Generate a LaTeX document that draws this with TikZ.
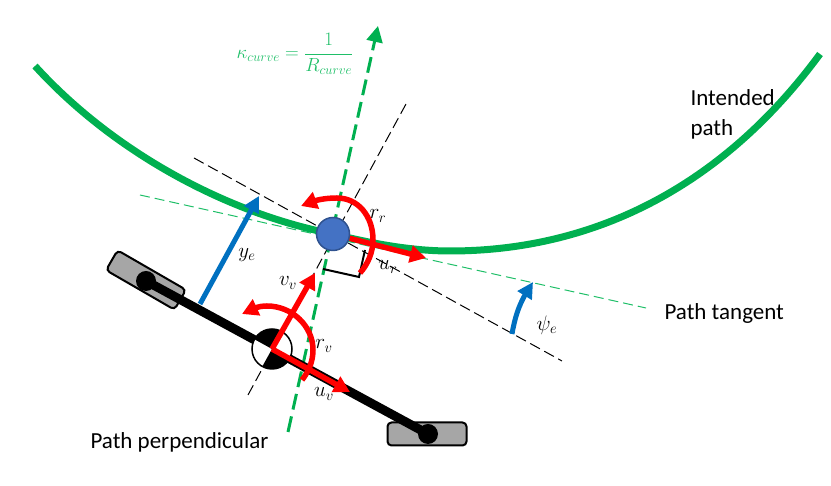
\RequirePackage{fix-cm}
\documentclass[tikz,border=0pt]{standalone}
\usepackage{amsmath}
\usepackage{fontspec}
\setmainfont{Carlito}
\usepackage{tikz}
\usetikzlibrary{positioning,arrows.meta,bending}
\definecolor{pathgreen}{HTML}{00B050}
\definecolor{labelgreen}{HTML}{1FBF68}
\definecolor{errblue}{HTML}{0070C0}
\definecolor{robotblue}{HTML}{4472C4}
\definecolor{robotedge}{HTML}{2F528F}
\definecolor{wheelgray}{HTML}{A6A6A6}
\tikzset{
  x=1pt, y=1pt,
  intended/.style={draw=pathgreen, line width=7pt},
  greenaxis/.style={draw=pathgreen, line width=3pt, dash pattern=on 16pt off 7pt,
                    -{Triangle[length=16pt, width=16pt]}},
  greenthin/.style={draw=labelgreen, line width=1pt, dash pattern=on 10pt off 5pt},
  blackthin/.style={draw=black, line width=1pt, dash pattern=on 11pt off 5pt},
  redvec/.style={draw=red, line width=5.5pt, -{Triangle[length=16pt, width=17pt, color=red]}},
  bluevec/.style={draw=errblue, line width=5pt, -{Triangle[length=16pt, width=16pt, color=errblue]}},
  wheel/.style={draw=black, line width=2pt, fill=wheelgray, rounded corners=4pt,
                minimum width=79pt, minimum height=23pt, inner sep=0pt},
  hub/.style={circle, fill=black, minimum size=20pt, inner sep=0pt},
  textlabel/.style={font=\fontsize{23}{30}\selectfont, align=left},
  sym/.style={font=\fontsize{21}{24}\selectfont, inner sep=0pt},
}
\begin{document}
\begin{tikzpicture}
  \useasboundingbox (0,0) rectangle (831,486);

  \coordinate (robot) at (333,252);
  \coordinate (vehicle) at (272,137);

  % thin construction lines
  \coordinate (tanstart) at (194,328);
  \coordinate (tanend) at (562,125);
  \coordinate (perpstart) at (248,91);
  \coordinate (perpend) at (406,382);
  \coordinate (gtstart) at (140,291);
  \coordinate (gtend) at (646,178);
  \draw[greenthin] (gtstart) -- (gtend);
  \draw[blackthin] (tanstart) -- (tanend);
  \draw[blackthin] (perpstart) -- (perpend);

  % intended path
  \coordinate (pathstart) at (35,420);
  \coordinate (pathlow) at (450,235);
  \coordinate (pathend) at (820,432);
  \draw[intended] (pathstart) .. controls (115,332) and (230,272) .. (robot)
    .. controls (370,243) and (410,235) .. (pathlow)
    .. controls (590,235) and (720,296) .. (pathend);

  % curvature axis
  \coordinate (axstart) at (288,54);
  \coordinate (axend) at (378,460);
  \draw[greenaxis] (axstart) -- (axend);

  % vehicle
  \node[wheel, rotate=-30] (rearwheel) at (146,206) {};
  \node[wheel] (frontwheel) at (427,52) {};
  \node[hub] (rearhub) at (146,205) {};
  \node[hub] (fronthub) at (428,52) {};
  \draw[line width=9pt] (rearhub.center) -- (fronthub.center);
  \fill[white] (vehicle) circle (20);
  \fill[black] (vehicle) -- ++(61:20) arc[start angle=61, end angle=151, radius=20] -- cycle;
  \fill[black] (vehicle) -- ++(241:20) arc[start angle=241, end angle=331, radius=20] -- cycle;
  \draw[line width=1.5pt] (vehicle) circle (20);

  % right angle mark
  \coordinate (marka) at (323,217);
  \coordinate (markb) at (359,209);
  \coordinate (markc) at (365,236);
  \draw[line width=2pt] (marka) -- (markb) -- (markc);

  % robot point
  \node[circle, fill=robotblue, draw=robotedge, line width=1.5pt, minimum size=33pt, inner sep=0pt] (robotdot) at (robot) {};

  % red vectors
  \coordinate (urtip) at (426,228);
  \coordinate (uvtip) at (350,94);
  \coordinate (vvtip) at (315,213);
  \draw[redvec] (robotdot) -- (urtip);
  \draw[redvec] (vehicle) -- (uvtip);
  \draw[redvec] (vehicle) -- (vvtip);
  \draw[redvec] (360,213) .. controls (368,222) and (373,234) .. (373,246)
    .. controls (373,270) and (358,288) .. (337,288)
    .. controls (325,288) and (313,286) .. (301,280);
  \draw[redvec] (302,106) .. controls (309,115) and (313,125) .. (313,136)
    .. controls (313,160) and (292,180) .. (267,180)
    .. controls (258,180) and (250,177) .. (242,172);

  % blue error vectors
  \coordinate (yebase) at (200,182);
  \coordinate (yetip) at (259,290);
  \coordinate (psibase) at (512,152);
  \coordinate (psitip) at (533,204);
  \draw[bluevec] (yebase) -- (yetip);
  \draw[bluevec] (psibase) to[bend left=12] (psitip);

  % labels
  \node[textlabel, anchor=west] (intendedlabel) at (687,372) {Intended\\path};
  \node[textlabel, anchor=west] (tangentlabel) at (661,173) {Path tangent};
  \node[textlabel, anchor=west] (perplabel) at (87,44) {Path perpendicular};
  \node[sym, text=labelgreen, font=\fontsize{19}{22}\selectfont] (kappalabel) at (295,432) {$\kappa_{curve}=\dfrac{1}{R_{curve}}$};
  \node[sym] (yelabel) at (247,231) {$y_e$};
  \node[sym] (vvlabel) at (288,203) {$v_v$};
  \node[sym] (rvlabel) at (324,140) {$r_v$};
  \node[sym] (uvlabel) at (324,92) {$u_v$};
  \node[sym] (rrlabel) at (378,270) {$r_r$};
  \node[sym] (urlabel) at (388,219) {$u_r$};
  \node[sym] (psilabel) at (547,161) {$\psi_e$};
\end{tikzpicture}
\end{document}
